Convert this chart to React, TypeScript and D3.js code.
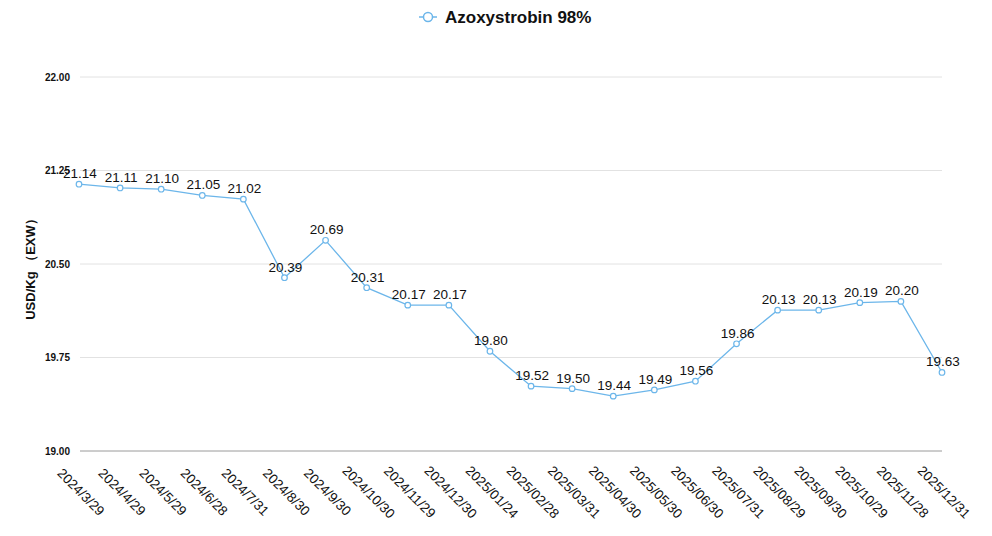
import React from "react";
import * as d3 from "d3";

const categories = [
  "2024/3/29", "2024/4/29", "2024/5/29", "2024/6/28", "2024/7/31", "2024/8/30",
  "2024/9/30", "2024/10/30", "2024/11/29", "2024/12/30", "2025/01/24", "2025/02/28",
  "2025/03/31", "2025/04/30", "2025/05/30", "2025/06/30", "2025/07/31", "2025/08/29",
  "2025/09/30", "2025/10/29", "2025/11/28", "2025/12/31",
];
const values = [
  21.14, 21.11, 21.1, 21.05, 21.02, 20.39, 20.69, 20.31, 20.17, 20.17, 19.8,
  19.52, 19.5, 19.44, 19.49, 19.56, 19.86, 20.13, 20.13, 20.19, 20.2, 19.63,
];
const yTicks = [19.0, 19.75, 20.5, 21.25, 22.0];
const seriesName = "Azoxystrobin 98%";
const yTitle = "USD/Kg （EXW）";

const W = 992;
const H = 536;
const FONT = "'Liberation Sans', Arial, Helvetica, sans-serif";
const COLOR = "#6cb6ea";

export default function App() {
  const x = d3.scalePoint<string>().domain(categories).range([79, 942]);
  const y = d3.scaleLinear().domain([19, 22]).range([451, 77]);
  const line = d3
    .line<number>()
    .x((_, i) => x(categories[i]) as number)
    .y((d) => y(d));

  return (
    <svg
      width={W}
      height={H}
      style={{ position: "absolute", left: 0, top: 0, background: "#fff" }}
      fontFamily={FONT}
    >
      {/* legend */}
      <g>
        <line x1={419} x2={437} y1={17} y2={17} stroke={COLOR} strokeWidth={1.5} />
        <circle cx={428} cy={17} r={4.5} fill="#fff" stroke={COLOR} strokeWidth={1.5} />
        <text x={445} y={23} fontSize={17} fontWeight="bold" fill="#111">
          {seriesName}
        </text>
      </g>

      {/* grid + y ticks */}
      {yTicks.map((t) => (
        <g key={t}>
          <line
            x1={80}
            x2={942}
            y1={y(t)}
            y2={y(t)}
            stroke={t === 19 ? "#9a9a9a" : "#e2e2e2"}
            strokeWidth={1}
          />
          <text
            x={70}
            y={y(t) + 3.5}
            textAnchor="end"
            fontSize={10}
            fontWeight="bold"
            fill="#111"
          >
            {t.toFixed(2)}
          </text>
        </g>
      ))}

      {/* y title */}
      <text
        transform={`translate(35,266) rotate(-90)`}
        textAnchor="middle"
        fontSize={13}
        fontWeight="bold"
        fill="#111"
      >
        {yTitle}
      </text>

      {/* x labels */}
      {categories.map((c) => (
        <text
          key={c}
          transform={`translate(${(x(c) as number) + 2},${492}) rotate(45)`}
          textAnchor="middle"
          fontSize={13.5}
          fill="#111"
          dy="0.35em"
        >
          {c}
        </text>
      ))}

      {/* line */}
      <path d={line(values) || ""} fill="none" stroke={COLOR} strokeWidth={1.3} />
      {values.map((v, i) => (
        <circle
          key={i}
          cx={x(categories[i]) as number}
          cy={y(v)}
          r={2.8}
          fill="#fff"
          stroke={COLOR}
          strokeWidth={1.2}
        />
      ))}
      {values.map((v, i) => (
        <text
          key={"l" + i}
          x={(x(categories[i]) as number) + 1}
          y={y(v) - 6}
          textAnchor="middle"
          fontSize={13.5}
          fill="#111"
        >
          {v.toFixed(2)}
        </text>
      ))}
    </svg>
  );
}
